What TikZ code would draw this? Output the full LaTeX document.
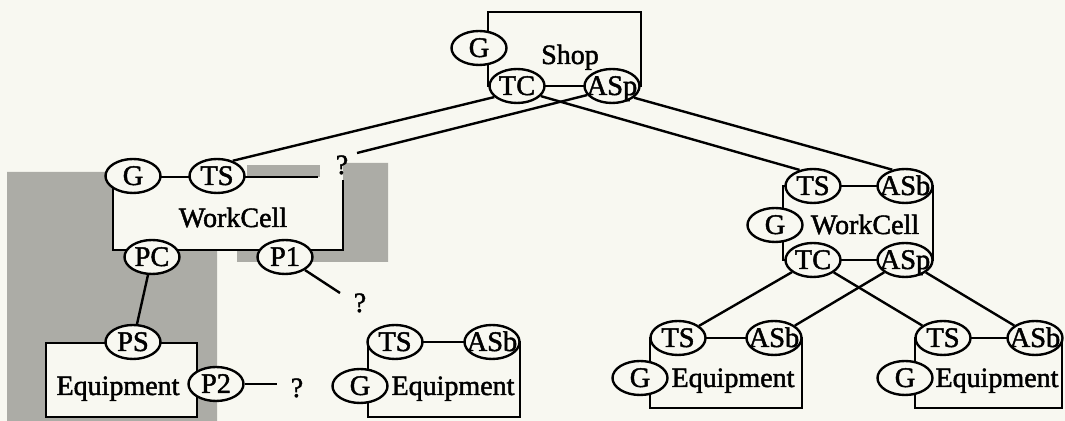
\documentclass[tikz,border=0pt]{standalone}
\usepackage{fontspec}
\setmainfont{Liberation Serif}[FakeBold=1.6]
\usetikzlibrary{shapes.geometric}
\definecolor{bg}{RGB}{248,248,241}
\definecolor{shadecol}{RGB}{172,172,166}
\newcommand\plbl[1]{\makebox[0pt]{#1}}
\tikzset{
 port/.style={ellipse, draw, fill=bg, line width=1.2pt, minimum width=27.5pt, minimum height=17pt, inner sep=0pt, text height=9pt, text depth=0pt, font=\fontsize{14.2}{16}\selectfont},
 lbl/.style={inner sep=0pt, text height=9pt, text depth=0pt, font=\fontsize{14}{16}\selectfont},
 boxline/.style={line width=1.2pt},
 conn/.style={line width=1.2pt},
 shadearea/.style={fill=shadecol, draw=none},
}
\begin{document}
\begin{tikzpicture}[x=0.5pt,y=-0.5pt]
\fill[bg] (0,0) rectangle (1065,421);
\useasboundingbox (0,0) rectangle (1065,421);
% shaded area
\fill[shadearea] (7,172) -- (113,172) -- (113,250) -- (217,250) -- (217,421) -- (7,421) -- cycle;
\fill[shadearea] (247,165) rectangle (320,177);
\fill[shadearea] (343,163) -- (388,163) -- (388,262) -- (237,262) -- (237,250) -- (343,250) -- cycle;
% boxes
\draw[boxline] (488,12) rectangle (641,86);
\draw[boxline] (783,186) rectangle (933,260);
\draw[boxline] (318,177) -- (113,177) -- (113,250) -- (343,250) -- (343,180);
\draw[boxline] (650,338) rectangle (802,408);
\draw[boxline] (915,338) rectangle (1062,408);
\draw[boxline] (368,342) rectangle (520,417);
\draw[boxline, fill=bg] (46,343) rectangle (197,417);
% Shop
\node[port] (sG) at (479,48) {\plbl{G}};
\node[port] (sTC) at (517,86) {\plbl{TC}};
\node[port] (sASp) at (612,86) {\plbl{ASp}};
\node[lbl] (sName) at (570,55) {Shop};
% right WorkCell
\node[port] (rTS) at (813,186) {\plbl{TS}};
\node[port] (rASb) at (905,186) {\plbl{ASb}};
\node[port] (rG) at (775,225) {\plbl{G}};
\node[port] (rTC) at (813,260) {\plbl{TC}};
\node[port] (rASp) at (905,260) {\plbl{ASp}};
\node[lbl] (rName) at (865,225) {WorkCell};
% left WorkCell
\node[port] (lG) at (133,176) {\plbl{G}};
\node[port] (lTS) at (217,176) {\plbl{TS}};
\node[port] (lPC) at (152,257) {\plbl{PC}};
\node[port] (lP1) at (285,257) {\plbl{P1}};
\node[lbl] (lName) at (233,218) {WorkCell};
% Equipment 1
\node[port] (aTS) at (678,338) {\plbl{TS}};
\node[port] (aASb) at (774,338) {\plbl{ASb}};
\node[port] (aG) at (640,378) {\plbl{G}};
\node[lbl] (aName) at (733,378) {Equipment};
% Equipment 2
\node[port] (bTS) at (943,338) {\plbl{TS}};
\node[port] (bASb) at (1035,338) {\plbl{ASb}};
\node[port] (bG) at (905,378) {\plbl{G}};
\node[lbl] (bName) at (997,378) {Equipment};
% Equipment 3
\node[port] (cTS) at (395,342) {\plbl{TS}};
\node[port] (cASb) at (492,342) {\plbl{ASb}};
\node[port] (cG) at (360,386) {\plbl{G}};
\node[lbl] (cName) at (453,386) {Equipment};
% Equipment 4
\node[port] (dPS) at (133,342) {\plbl{PS}};
\node[port] (dP2) at (216,384) {\plbl{P2}};
\node[lbl] (dName) at (118,386) {Equipment};
% question marks
\node[lbl] (q1) at (342,165) {?};
\node[lbl] (q2) at (360,303) {?};
\node[lbl] (q3) at (297,388) {?};
\coordinate (e1) at (357,153);
\coordinate (e2) at (340,293);
\coordinate (e3) at (277,384);
% connectors
\draw[conn] (sTC.206) -- (lTS.44);
\draw[conn] (sASp.200) -- (e1);
\draw[conn] (sTC.-23) -- (rTS.130);
\draw[conn] (sASp.-28) -- (rASb.128);
\draw[conn] (rTC) -- (aTS);
\draw[conn] (rTC) -- (bTS);
\draw[conn] (rASp) -- (aASb);
\draw[conn] (rASp) -- (bASb);
\draw[conn] (lPC) -- (dPS);
\draw[conn] (lP1) -- (e2);
\draw[conn] (dP2) -- (e3);
\end{tikzpicture}
\end{document}
